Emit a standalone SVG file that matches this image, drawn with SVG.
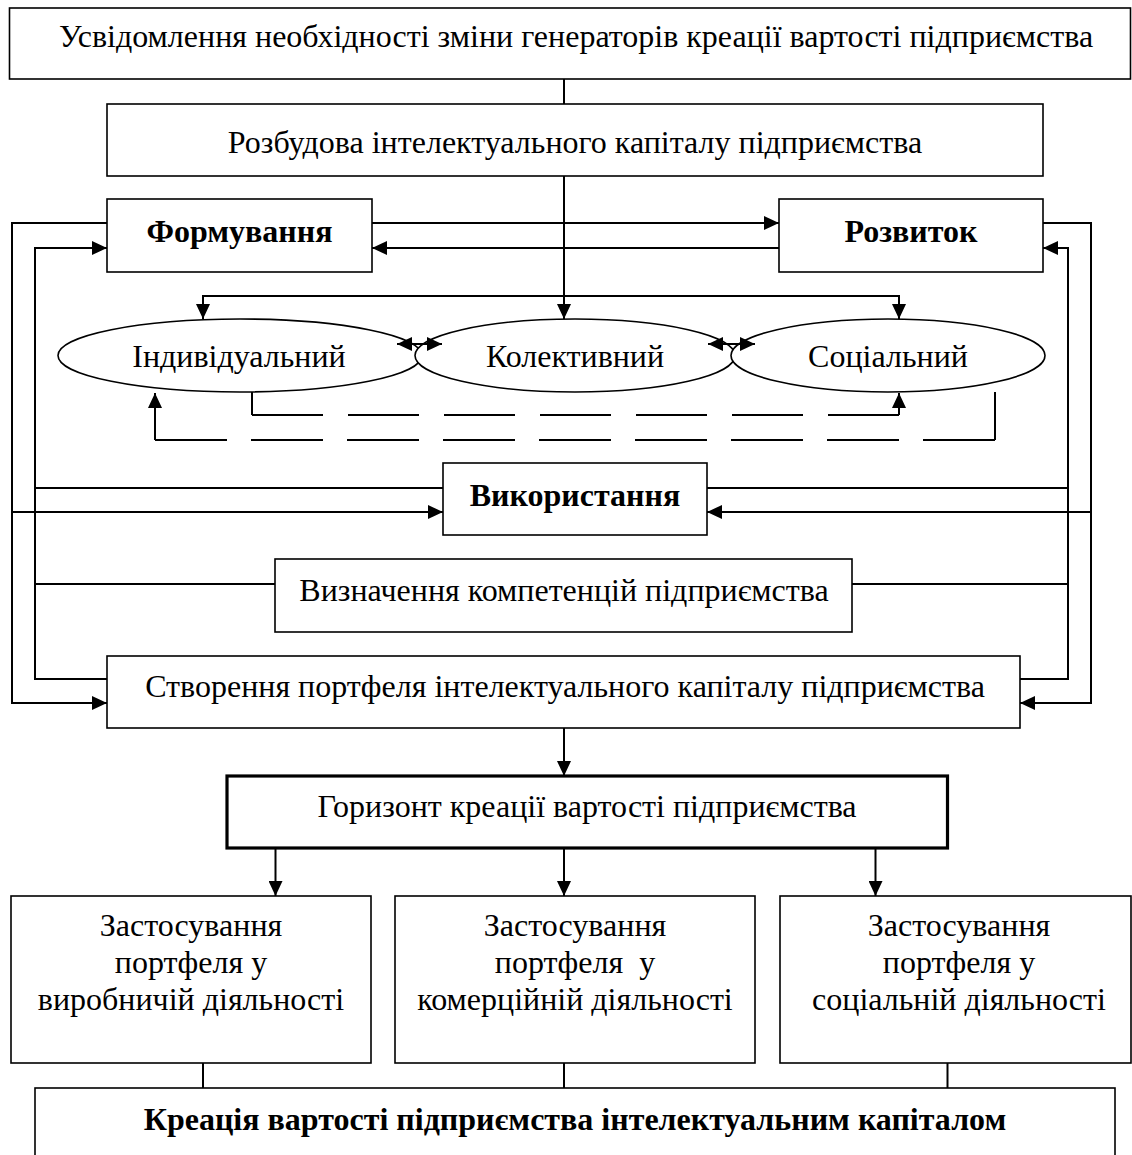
<svg xmlns="http://www.w3.org/2000/svg" width="1132" height="1155" viewBox="0 0 1132 1155">
<style>
.box{fill:#fff;stroke:#000;stroke-width:1.6}
.thick{fill:#fff;stroke:#000;stroke-width:3.2}
.t{font-family:"Liberation Serif","Times New Roman",serif;font-size:32px;fill:#000;text-anchor:middle;white-space:pre}
.b{font-weight:bold}
.c{fill:none;stroke:#000;stroke-width:2}
.d1{stroke-dasharray:71 25}
.d2{stroke-dasharray:72 24}
</style>
<defs>
<marker id="a" markerUnits="userSpaceOnUse" markerWidth="16" markerHeight="14" refX="15" refY="7" orient="auto">
<path d="M0,0 L15,7 L0,14 Z" fill="#000"/>
</marker>
<marker id="s" markerUnits="userSpaceOnUse" markerWidth="16" markerHeight="14" refX="15" refY="7" orient="auto-start-reverse">
<path d="M0,0 L15,7 L0,14 Z" fill="#000"/>
</marker>
</defs>
<g id="n-top"><rect class="box" x="9.5" y="8" width="1121" height="71"/><text class="t" x="576" y="47">Усвідомлення необхідності зміни генераторів креації вартості підприємства</text></g>
<g id="n-rozbudova"><rect class="box" x="107" y="104" width="936" height="72"/><text class="t" x="575" y="153">Розбудова інтелектуального капіталу підприємства</text></g>
<g id="n-formuvannia"><rect class="box" x="107" y="199" width="265" height="73"/><text class="t b" x="239.5" y="242">Формування</text></g>
<g id="n-rozvytok"><rect class="box" x="779" y="199" width="264" height="73"/><text class="t b" x="911" y="242">Розвиток</text></g>
<g id="n-indyv"><ellipse class="box" cx="240" cy="355.5" rx="182" ry="36.5"/><text class="t" x="239" y="367">Індивідуальний</text></g>
<g id="n-kolekt"><ellipse class="box" cx="575" cy="355.5" rx="160" ry="36.5"/><text class="t" x="575" y="367">Колективний</text></g>
<g id="n-sotsial"><ellipse class="box" cx="888" cy="355.5" rx="157" ry="36.5"/><text class="t" x="888" y="367">Соціальний</text></g>
<g id="n-vykorystannia"><rect class="box" x="443" y="463" width="264" height="72"/><text class="t b" x="575" y="506">Використання</text></g>
<g id="n-vyznachennia"><rect class="box" x="275" y="559" width="577" height="73"/><text class="t" x="564" y="601">Визначення компетенцій підприємства</text></g>
<g id="n-stvorennia"><rect class="box" x="107" y="656" width="913" height="72"/><text class="t" x="565" y="697">Створення портфеля інтелектуального капіталу підприємства</text></g>
<g id="n-horyzont"><rect class="thick" x="227" y="776" width="720.5" height="72"/><text class="t" x="587" y="817">Горизонт креації вартості підприємства</text></g>
<g id="n-vyrob"><rect class="box" x="11" y="896" width="360" height="167"/><text class="t" x="191" y="936">Застосування</text><text class="t" x="191" y="973">портфеля у</text><text class="t" x="191" y="1010">виробничій діяльності</text></g>
<g id="n-komerts"><rect class="box" x="395" y="896" width="360" height="167"/><text class="t" x="575" y="936">Застосування</text><text class="t" x="575" y="973">портфеля  у</text><text class="t" x="575" y="1010">комерційній діяльності</text></g>
<g id="n-sotsdial"><rect class="box" x="780" y="896" width="351" height="167"/><text class="t" x="959" y="936">Застосування</text><text class="t" x="959" y="973">портфеля у</text><text class="t" x="959" y="1010">соціальній діяльності</text></g>
<g id="n-kreatsiia"><rect class="box" x="35" y="1088" width="1080" height="80"/><text class="t b" x="575" y="1130">Креація вартості підприємства інтелектуальним капіталом</text></g>
<g id="connectors">
<path class="c" d="M564,79 V104"/>
<path class="c" d="M564,176 V319" marker-end="url(#a)"/>
<path class="c" d="M564,296 H203 V319" marker-end="url(#a)"/>
<path class="c" d="M564,296 H899 V319" marker-end="url(#a)"/>
<path class="c" d="M372,223 H779" marker-end="url(#a)"/>
<path class="c" d="M779,248 H372" marker-end="url(#a)"/>
<path class="c" d="M107,223 H12 V703 H107" marker-end="url(#a)"/>
<path class="c" d="M12,512 H443" marker-end="url(#a)"/>
<path class="c" d="M107,679 H35 V248 H107" marker-end="url(#a)"/>
<path class="c" d="M443,488 H35"/>
<path class="c" d="M275,584 H35"/>
<path class="c" d="M1043,223 H1091 V703 H1020" marker-end="url(#a)"/>
<path class="c" d="M1091,512 H707" marker-end="url(#a)"/>
<path class="c" d="M1020,679 H1068 V248 H1043" marker-end="url(#a)"/>
<path class="c" d="M707,488 H1068"/>
<path class="c" d="M852,584 H1068"/>
<path class="c" d="M397,344 H442" marker-start="url(#s)" marker-end="url(#s)"/>
<path class="c" d="M708,344 H755" marker-start="url(#s)" marker-end="url(#s)"/>
<path class="c" d="M252,392 V415"/>
<path class="c d1" d="M252,415 H899"/>
<path class="c" d="M899,415 V393" marker-end="url(#a)"/>
<path class="c" d="M155,440 V393" marker-end="url(#a)"/>
<path class="c d2" d="M155,440 H995"/>
<path class="c" d="M995,440 V392"/>
<path class="c" d="M564,728 V776" marker-end="url(#a)"/>
<path class="c" d="M275.5,848 V896" marker-end="url(#a)"/>
<path class="c" d="M564,848 V896" marker-end="url(#a)"/>
<path class="c" d="M875.5,848 V896" marker-end="url(#a)"/>
<path class="c" d="M203,1063 V1088"/>
<path class="c" d="M564,1063 V1088"/>
<path class="c" d="M947.5,1063 V1088"/>
</g>
</svg>
